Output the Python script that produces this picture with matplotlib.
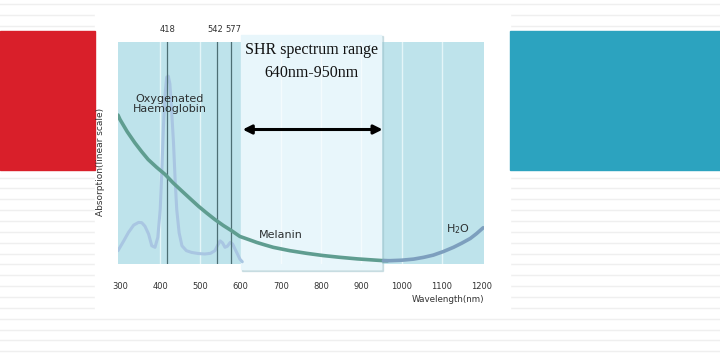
import matplotlib
matplotlib.use("Agg")
import matplotlib.pyplot as plt
from matplotlib.patches import Rectangle
import numpy as np

# absorption curves (arbitrary linear scale 0-100)
oxy_nm = [295, 308, 321, 334, 346, 354, 362, 371, 379, 387, 394, 400, 404, 408, 412, 416, 420, 424,
          428, 433, 437, 441, 447, 454, 465, 478, 495, 511, 525, 536, 543, 549, 555, 561, 567, 574,
          580, 586, 592, 598, 604]
oxy_abs = [6, 10, 14.2, 17.5, 18.7, 18.6, 17, 13.5, 8.2, 7.5, 12, 24.6, 42, 62, 76, 84, 84.5, 81,
           70, 54.5, 38, 24.6, 14, 8.2, 6, 5.2, 4.7, 4.5, 4.8, 6, 8.5, 10.4, 9.5, 7.5, 8, 9.7,
           9, 6.7, 4.5, 2.2, 1]

mel_nm = [295, 300, 318, 337, 354, 370, 391, 412, 432, 454, 475, 495, 515, 536, 557, 578, 598,
          620, 640, 660, 681, 722, 764, 805, 847, 890, 930, 955, 965]
mel_abs = [67, 65, 59.5, 54.5, 50.5, 47, 43.5, 40.3, 36.5, 32.8, 29.3, 26, 23, 20, 17.3, 14.9, 12.4,
           11, 9.7, 8.6, 7.5, 6, 4.8, 3.8, 3, 2.3, 1.8, 1.5, 1.45]

h2o_nm = [955, 972, 1000, 1030, 1055, 1079, 1104, 1129, 1150, 1171, 1186, 1203]
h2o_abs = [1.5, 1.5, 1.7, 2.2, 3, 4, 5.6, 7.5, 9.4, 11.5, 13.6, 16.3]

top_peaks = [418, 542, 577]
top_labels = ["418", "542", "577"]
x_ticks = [300, 400, 500, 600, 700, 800, 900, 1000, 1100, 1200]
grid_nm = [400, 500, 700, 800, 900, 1000, 1100]
shr_band = (600, 950)

fig = plt.figure(figsize=(7.2, 3.57), dpi=100)

# slide background
bg = fig.add_axes([0, 0, 1, 1])
bg.set_xlim(0, 720)
bg.set_ylim(357, 0)
bg.axis("off")
for y in np.arange(4, 357, 10.85):
    bg.plot([0, 720], [y, y], color="#efefef", lw=1.0, zorder=0)
bg.add_patch(Rectangle((95, 10), 415, 300, color="white", zorder=1))
bg.add_patch(Rectangle((0, 31), 95, 139, color="#d91f2a", zorder=2))
bg.add_patch(Rectangle((510, 31), 210, 139, color="#2ca3bf", zorder=2))

# chart
W, H = 720, 357
ax = fig.add_axes([118 / W, (H - 264) / H, (484 - 118) / W, (264 - 41.7) / H])
ax.set_facecolor("#bee3eb")
ax.set_xlim(295, 1205)
ax.set_ylim(0, 100)
for s in ax.spines.values():
    s.set_visible(False)

for g in grid_nm:
    ax.axvline(g, color="#e4f5f8", lw=1, zorder=1)

# SHR panel with soft shadow
ax.add_patch(Rectangle((shr_band[0] + 3, -3.0), shr_band[1] - shr_band[0], 105.6,
                       color="#9fc4cc", alpha=0.45, clip_on=False, zorder=2))
ax.add_patch(Rectangle((shr_band[0], -2.2), shr_band[1] - shr_band[0], 105.0,
                       color="#e8f6fb", clip_on=False, zorder=3))
for g in grid_nm:
    if shr_band[0] < g < shr_band[1]:
        ax.axvline(g, color="#f4fbfd", lw=1, zorder=3.5)

for p in top_peaks:
    ax.axvline(p, color="#4d6e74", lw=0.9, zorder=5)

ax.plot(oxy_nm, oxy_abs, color="#a9c6e2", lw=2.2, zorder=4,
        solid_capstyle="round", solid_joinstyle="round")
ax.plot(mel_nm, mel_abs, color="#5f9d90", lw=2.6, zorder=6,
        solid_capstyle="round", solid_joinstyle="round")
ax.plot(h2o_nm, h2o_abs, color="#7d9fbe", lw=2.6, zorder=6,
        solid_capstyle="round", solid_joinstyle="round")

ax.annotate("", xy=(shr_band[0] + 5, 60.5), xytext=(shr_band[1] + 3, 60.5),
            arrowprops=dict(arrowstyle="<|-|>", color="black", lw=2.2,
                            mutation_scale=13, shrinkA=0, shrinkB=0), zorder=7)

serif = dict(family="Liberation Serif", fontsize=11.5, color="#111111", ha="center")
ax.text(775, 96.3, "SHR spectrum range", va="center", zorder=8, **serif)
ax.text(775, 86, "640nm-950nm", va="center", zorder=8, **serif)

lab = dict(family="DejaVu Sans", fontsize=8, color="#2b2f30")
ax.text(424, 72, "Oxygenated\nHaemoglobin", ha="center", va="center",
        linespacing=1.05, zorder=8, **lab)
ax.text(700, 13, "Melanin", ha="center", va="center", zorder=8, **lab)
ax.text(1141, 15.5, "H$_2$O", ha="center", va="center", zorder=8, **lab)

ax.set_xticks(x_ticks)
ax.set_xticklabels([str(t) for t in x_ticks])
ax.tick_params(axis="x", length=0, pad=13, labelsize=6, labelcolor="#333333")
ax.set_yticks([])
ax.set_ylabel("Absorption(linear scale)", fontsize=6.5, color="#333333")
ax.yaxis.set_label_coords(-0.035, 0.46)
ax.text(1205, -16, "Wavelength(nm)", ha="right", va="center", fontsize=6.3,
        color="#333333", clip_on=False)

# peak wavelengths above the plot
top_x = [418, 537, 581]
for x, t in zip(top_x, top_labels):
    ax.text(x, 105.5, t, ha="center", va="center", fontsize=6, color="#333333",
            clip_on=False)

fig.savefig("out.png", dpi=100)
